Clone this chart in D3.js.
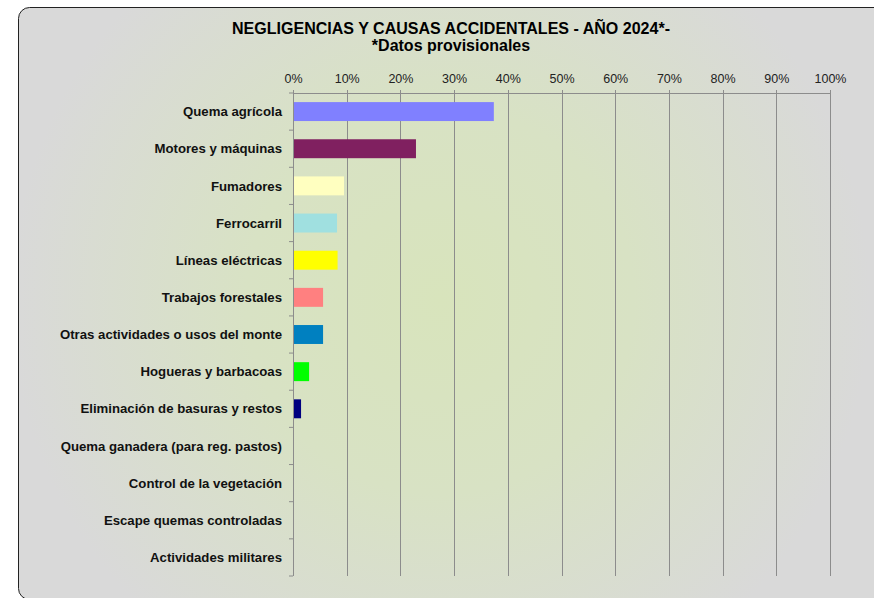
<!DOCTYPE html>
<html>
<head>
<meta charset="utf-8">
<script src="https://cdn.jsdelivr.net/npm/d3@7"></script>
<style>
  body { margin: 0; background: #fff; }
  text { font-family: "Liberation Sans", Arial, sans-serif; }
</style>
</head>
<body>
<div id="chart"></div>
<script>
// Data
let categories = [
  "Quema agrícola",
  "Motores y máquinas",
  "Fumadores",
  "Ferrocarril",
  "Líneas eléctricas",
  "Trabajos forestales",
  "Otras actividades o usos del monte",
  "Hogueras y barbacoas",
  "Eliminación de basuras y restos",
  "Quema ganadera (para reg. pastos)",
  "Control de la vegetación",
  "Escape quemas controladas",
  "Actividades militares"
];
let values = [37.4, 22.9, 9.5, 8.2, 8.3, 5.6, 5.6, 3.0, 1.5, 0, 0, 0, 0];
let barColors = ["#8080ff", "#802060", "#ffffc0", "#a0e0e0", "#ffff00", "#ff8080",
  "#0080c0", "#00ff00", "#000080", "#ff00ff", "#00ffff", "#800000", "#008080"];
let xTicks = [0, 10, 20, 30, 40, 50, 60, 70, 80, 90, 100];

let svgWidth = 874;
let svgHeight = 598;

let margin = { top: 93, right: 44, bottom: 22, left: 293 };
let width = svgWidth - margin.left - margin.right;
let height = svgHeight - margin.top - margin.bottom;

let svg = d3.select("#chart")
  .append("svg")
  .attr("width", svgWidth)
  .attr("height", svgHeight);

// Background gradient
let defs = svg.append("defs");
let grad = defs.append("radialGradient")
  .attr("id", "bg")
  .attr("gradientUnits", "userSpaceOnUse")
  .attr("cx", 440).attr("cy", 300).attr("r", 430);
grad.append("stop").attr("offset", "0%").attr("stop-color", "#d8e4bc");
grad.append("stop").attr("offset", "45%").attr("stop-color", "#d8e2c4");
grad.append("stop").attr("offset", "100%").attr("stop-color", "#d9d9d9");

svg.append("rect")
  .attr("x", 18.5).attr("y", 7.5)
  .attr("width", 870).attr("height", 592)
  .attr("rx", 11).attr("ry", 11)
  .attr("fill", "url(#bg)")
  .attr("stroke", "#222")
  .attr("stroke-width", 1);

// Title
svg.append("text")
  .attr("x", 451).attr("y", 34)
  .attr("text-anchor", "middle")
  .attr("font-size", 16).attr("font-weight", "bold")
  .attr("textLength", 438).attr("lengthAdjust", "spacingAndGlyphs")
  .text("NEGLIGENCIAS Y CAUSAS ACCIDENTALES - AÑO 2024*-");
svg.append("text")
  .attr("x", 451).attr("y", 51)
  .attr("text-anchor", "middle")
  .attr("font-size", 16).attr("font-weight", "bold")
  .text("*Datos provisionales");

let chartGroup = svg.append("g")
  .attr("transform", `translate(${margin.left}, ${margin.top})`);

let x = d3.scaleLinear().domain([0, 100]).range([0, width]);
let y = d3.scaleBand().domain(categories).range([0, height]).paddingInner(0.49).paddingOuter(0.245);

// Gridlines
chartGroup.append("g")
  .selectAll("line")
  .data(xTicks)
  .enter()
  .append("line")
  .attr("x1", d => Math.round(x(d)) + 0.5)
  .attr("x2", d => Math.round(x(d)) + 0.5)
  .attr("y1", -3)
  .attr("y2", height)
  .attr("stroke", "#8c8c8c")
  .attr("stroke-width", 1);

// Top axis
let topAxis = d3.axisTop(x)
  .tickValues(xTicks)
  .tickFormat(d => d + "%")
  .tickSize(0)
  .tickPadding(10);
let xAxis = chartGroup.append("g").call(topAxis);
xAxis.select(".domain").attr("stroke", "#8c8c8c").attr("d", `M0.5,0.5H${Math.round(width) + 0.5}`);
xAxis.selectAll("text")
  .attr("font-size", 12.5)
  .attr("font-family", "Liberation Sans, Arial, sans-serif")
  .attr("fill", "#222");

// Left axis with ticks at category boundaries
let step = height / categories.length;
let boundaries = d3.range(categories.length + 1);
chartGroup.append("g")
  .selectAll("line")
  .data(boundaries)
  .enter()
  .append("line")
  .attr("x1", -4).attr("x2", 0)
  .attr("y1", d => d * step)
  .attr("y2", d => d * step)
  .attr("stroke", "#8c8c8c");
chartGroup.append("line")
  .attr("x1", 0.5).attr("x2", 0.5)
  .attr("y1", 0).attr("y2", height)
  .attr("stroke", "#8c8c8c");

// Bars
chartGroup.selectAll(".bar")
  .data(values)
  .enter()
  .append("rect")
  .attr("class", "bar")
  .attr("x", 1)
  .attr("y", (d, i) => y(categories[i]))
  .attr("width", d => Math.max(0, x(d) - 1))
  .attr("height", y.bandwidth())
  .attr("fill", (d, i) => barColors[i]);

// Category labels
chartGroup.selectAll(".cat")
  .data(categories)
  .enter()
  .append("text")
  .attr("class", "cat")
  .attr("x", -11)
  .attr("y", d => y(d) + y.bandwidth() / 2)
  .attr("dy", "0.35em")
  .attr("text-anchor", "end")
  .attr("font-size", 13.2)
  .attr("font-weight", "bold")
  .attr("fill", "#111")
  .text(d => d);
</script>
</body>
</html>
